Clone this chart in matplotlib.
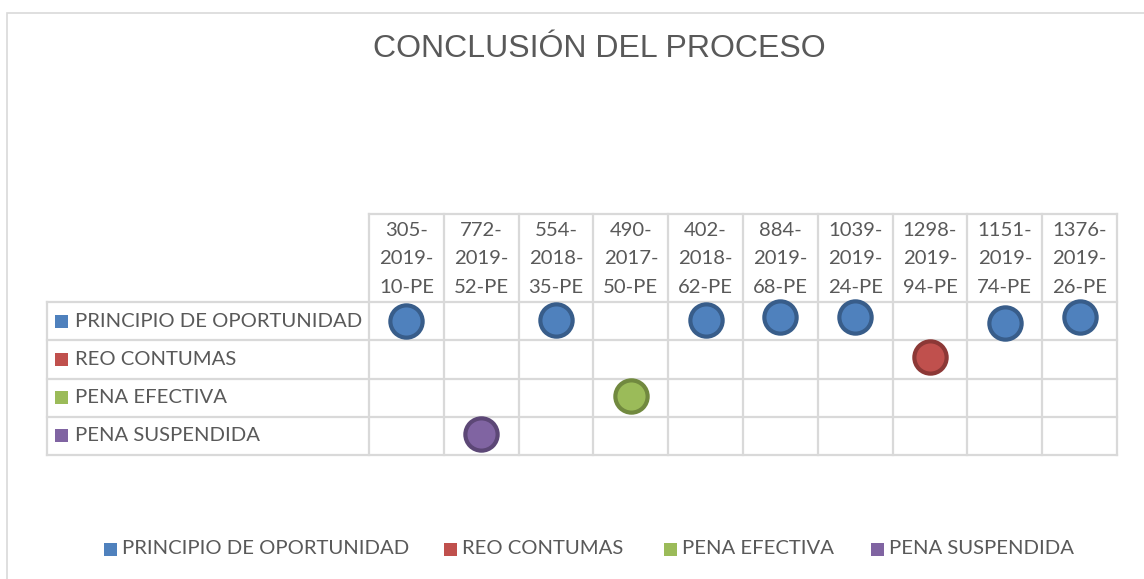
import matplotlib.pyplot as plt
from matplotlib.patches import Rectangle

# datos
expedientes = ["305-2019-10-PE", "772-2019-52-PE", "554-2018-35-PE", "490-2017-50-PE",
               "402-2018-62-PE", "884-2019-68-PE", "1039-2019-24-PE", "1298-2019-94-PE",
               "1151-2019-74-PE", "1376-2019-26-PE"]
series = ["PRINCIPIO DE OPORTUNIDAD", "REO CONTUMAS", "PENA EFECTIVA", "PENA SUSPENDIDA"]
# nivel de conclusión de cada expediente (4 = principio ... 1 = pena suspendida)
valores = [4.0, 1.05, 4.03, 2.05, 4.03, 4.1, 4.1, 3.05, 3.95, 4.1]
serie_idx = [0, 3, 0, 2, 0, 0, 0, 1, 0, 0]

colores = ["#4F81BD", "#C0504D", "#9BBB59", "#8064A2"]
bordes = ["#385D8A", "#8C3836", "#71893F", "#5C4776"]
GRIS = "#595959"
LINEA = "#D9D9D9"

W, H = 1144, 579
fig = plt.figure(figsize=(W / 100, H / 100), dpi=100)

# marco exterior
fig.patches.append(Rectangle((7 / W, -0.1), 1.1, 1 - 13 / H + 0.1, transform=fig.transFigure,
                             fill=False, edgecolor=LINEA, lw=1.2))

fig.text(599 / W, 1 - 49 / H, "CONCLUSIÓN DEL PROCESO", ha="center", va="center",
         fontsize=23, color=GRIS, family=["Liberation Sans", "DejaVu Sans"])

# area de la tabla (columnas de datos)
x0, x1, y0, y1 = 369, 1117, 302, 455
ax = fig.add_axes([x0 / W, 1 - y1 / H, (x1 - x0) / W, (y1 - y0) / H])
n = len(expedientes)
ax.set_xlim(0, n)
ax.set_ylim(0.5, 4.5)
ax.axis("off")

col_px = (x1 - x0) / n
row_px = (y1 - y0) / 4
top = 4.5 + (y0 - 214) / row_px
left = -(x0 - 47) / col_px

kw = dict(color=LINEA, lw=1.6, clip_on=False, zorder=1)
# lineas horizontales
ax.plot([0, n], [top, top], **kw)
for r in range(5):
    yy = 4.5 - r
    ax.plot([left, n], [yy, yy], **kw)
# lineas verticales
ax.plot([left, left], [0.5, 4.5], **kw)
for c in range(n + 1):
    ax.plot([c, c], [0.5, top], **kw)

tfont = dict(family=["Lato", "DejaVu Sans"], fontsize=14.6, color=GRIS)

# encabezados
for i, lab in enumerate(expedientes):
    p = lab.split("-")
    lineas = [p[0] + "-", p[1] + "-", p[2] + "-" + p[3]]
    for k, py in enumerate([230, 258, 287]):
        ax.text(i + 0.5, 4.5 + (y0 - py) / row_px, lineas[k], ha="center", va="center",
                clip_on=False, **tfont)

# etiquetas de filas
for r, s in enumerate(series):
    yy = 4 - r
    ax.add_patch(Rectangle((left + 8 / col_px, yy - 6.5 / row_px), 13 / col_px, 13 / row_px,
                           facecolor=colores[r], edgecolor="none", clip_on=False))
    ax.text(left + 28 / col_px, yy, s, ha="left", va="center", clip_on=False, **tfont)

# marcadores
for i, (v, s) in enumerate(zip(valores, serie_idx)):
    ax.scatter(i + 0.5, v, s=540, color=colores[s], edgecolor=bordes[s], linewidth=3,
               zorder=3, clip_on=False)

# leyenda inferior
leg_x = [104, 444, 664, 871]
for r, s in enumerate(series):
    fig.patches.append(Rectangle((leg_x[r] / W, 1 - 556 / H), 13 / W, 13 / H,
                                 transform=fig.transFigure, facecolor=colores[r],
                                 edgecolor="none"))
    fig.text((leg_x[r] + 18) / W, 1 - 549 / H, s, ha="left", va="center", **tfont)

fig.savefig("out.png", dpi=100)
